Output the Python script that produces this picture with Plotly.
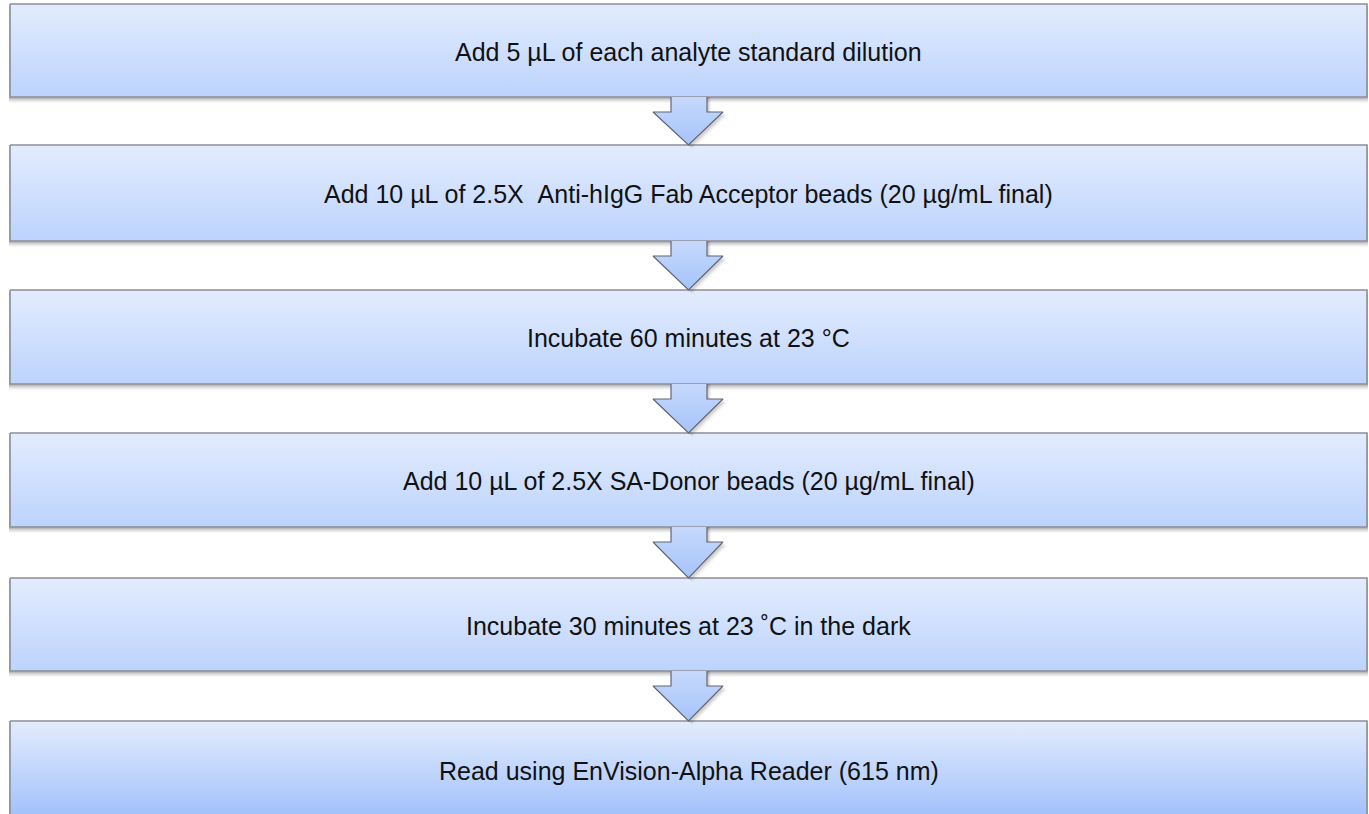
import plotly.graph_objects as go

steps = [
    "Add 5 µL of each analyte standard dilution",
    "Add 10 µL of 2.5X \u00a0Anti-hIgG Fab Acceptor beads (20 µg/mL final)",
    "Incubate 60 minutes at 23 °C",
    "Add 10 µL of 2.5X SA-Donor beads (20 µg/mL final)",
    "Incubate 30 minutes at 23 ˚C in the dark",
    "Read using EnVision-Alpha Reader (615 nm)",
]
box_tops = [4, 145, 290, 433, 578, 721]
box_bottoms = [97, 241, 384, 527, 671, 840]

W, H = 1369, 814
X0, X1 = 10, 1367
XC = (X0 + X1) / 2

fig = go.Figure()

# shadows
for i, (t, b) in enumerate(zip(box_tops, box_bottoms)):
    for k, a in [(6, 0.04), (5, 0.05), (4, 0.07), (3, 0.09), (2, 0.12)]:
        fig.add_trace(go.Scatter(
            x=[X0 - 1, X1 + 1, X1 + 1, X0 - 1, X0 - 1],
            y=[t + k, t + k, b + k, b + k, t + k],
            fill="toself", fillcolor=f"rgba(60,60,60,{a})",
            line=dict(width=0), mode="lines", hoverinfo="skip", showlegend=False))

# boxes
for i, (t, b) in enumerate(zip(box_tops, box_bottoms)):
    bot_col = "#BCD3FD" if i < 5 else "#A3C2FB"
    bb = b if i < 5 else 814
    fig.add_trace(go.Scatter(
        x=[X0, X1, X1, X0, X0], y=[t, t, b, b, t],
        fill="toself",
        fillgradient=dict(type="vertical", start=t, stop=bb,
                          colorscale=[[0, "#E3ECFD"], [1, bot_col]]),
        line=dict(color="#8C8F96", width=1.6), mode="lines",
        hoverinfo="skip", showlegend=False))

# arrows
SH0, SH1 = 671, 707
HD0, HD1 = 653, 723
for i in range(len(steps) - 1):
    b = box_bottoms[i]
    nt = box_tops[i + 1]
    hy = b + 15
    for k, a in [(4, 0.06), (3, 0.08), (2, 0.1)]:
        fig.add_trace(go.Scatter(
            x=[SH0 + k, SH0 + k, HD0 + k, XC + k, HD1 + k, SH1 + k, SH1 + k],
            y=[b, hy + k, hy + k, nt + k, hy + k, hy + k, b],
            fill="toself", fillcolor=f"rgba(60,60,60,{a})",
            line=dict(width=0), mode="lines", hoverinfo="skip", showlegend=False))
    fig.add_trace(go.Scatter(
        x=[SH0, SH0, HD0, XC, HD1, SH1, SH1],
        y=[b, hy, hy, nt, hy, hy, b],
        fill="toself",
        fillgradient=dict(type="vertical", start=b, stop=nt,
                          colorscale=[[0, "#C6D9FC"], [1, "#A6C3FA"]]),
        line=dict(color="#5F6673", width=1.2), mode="lines",
        hoverinfo="skip", showlegend=False))

for i, s in enumerate(steps):
    t = box_tops[i]
    yc = (t + box_bottoms[i]) / 2 + 1 if i < 5 else t + 50
    fig.add_annotation(x=XC, y=yc, text=s, showarrow=False,
                       xref="x", yref="y",
                       font=dict(family="Liberation Sans, Arial, sans-serif",
                                 size=25, color="#111111"))

fig.update_xaxes(range=[0, W], visible=False, fixedrange=True)
fig.update_yaxes(range=[H, 0], visible=False, fixedrange=True)
fig.update_layout(width=W, height=H, margin=dict(l=0, r=0, t=0, b=0),
                  paper_bgcolor="white", plot_bgcolor="white")
fig.write_html("out.html", config={"displayModeBar": False},
               post_script="document.body.style.margin='0';"
                           "document.body.style.overflow='hidden';")
